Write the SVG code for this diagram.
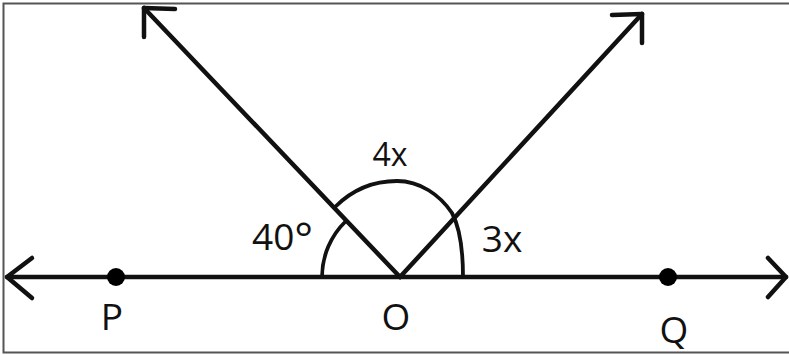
<svg xmlns="http://www.w3.org/2000/svg" width="789" height="355" viewBox="0 0 789 355">
  <style>
    .ln { stroke: #111; stroke-width: 4.5; fill: none; stroke-linecap: round; stroke-linejoin: round; }
    .arc { stroke: #111; stroke-width: 3.8; fill: none; }
    .lbl { font-family: "Open Sans", "DejaVu Sans", sans-serif; fill: #111; font-size: 37px; }
    .dot { fill: #000; }
  </style>
  <rect x="0" y="0" width="789" height="355" fill="#fff"/>
  <path id="border" d="M 789 3.5 H 3.5 V 352.5 H 789" fill="none" stroke="#555" stroke-width="2"/>
  <g id="connectors">
    <line class="ln" x1="7" y1="277" x2="786" y2="277"/>
    <polyline class="ln" points="32,258 7,277 32,298"/>
    <polyline class="ln" points="768,258 786,277 768,297"/>
    <line class="ln" x1="400" y1="277" x2="144" y2="8"/>
    <polyline class="ln" points="175,9 144,8 144,37"/>
    <line class="ln" x1="400" y1="277" x2="642" y2="14"/>
    <polyline class="ln" points="612,15 642,14 642,43"/>
  </g>
  <g id="arcs">
    <path class="arc" d="M 322 277 A 78 78 0 0 1 346 221"/>
    <path class="arc" d="M 335 207 C 355 187 378 181 397 181 C 420 181 440 195 452 213 C 460 228 463 250 463 277"/>
  </g>
  <g id="P"><circle class="dot" cx="116" cy="277" r="9"/><text class="lbl" x="112" y="330" text-anchor="middle">P</text></g>
  <g id="O"><text class="lbl" x="396" y="330" text-anchor="middle">O</text></g>
  <g id="Q"><circle class="dot" cx="668" cy="277" r="9"/><text class="lbl" x="674" y="343" text-anchor="middle">Q</text></g>
  <g id="labels">
    <text class="lbl" x="390" y="166" text-anchor="middle" style="font-size:32px">4x</text>
    <text class="lbl" x="252" y="250">40<tspan style="font-size:44px" dy="4">°</tspan></text>
    <text class="lbl" x="502" y="252" text-anchor="middle">3x</text>
  </g>
</svg>
